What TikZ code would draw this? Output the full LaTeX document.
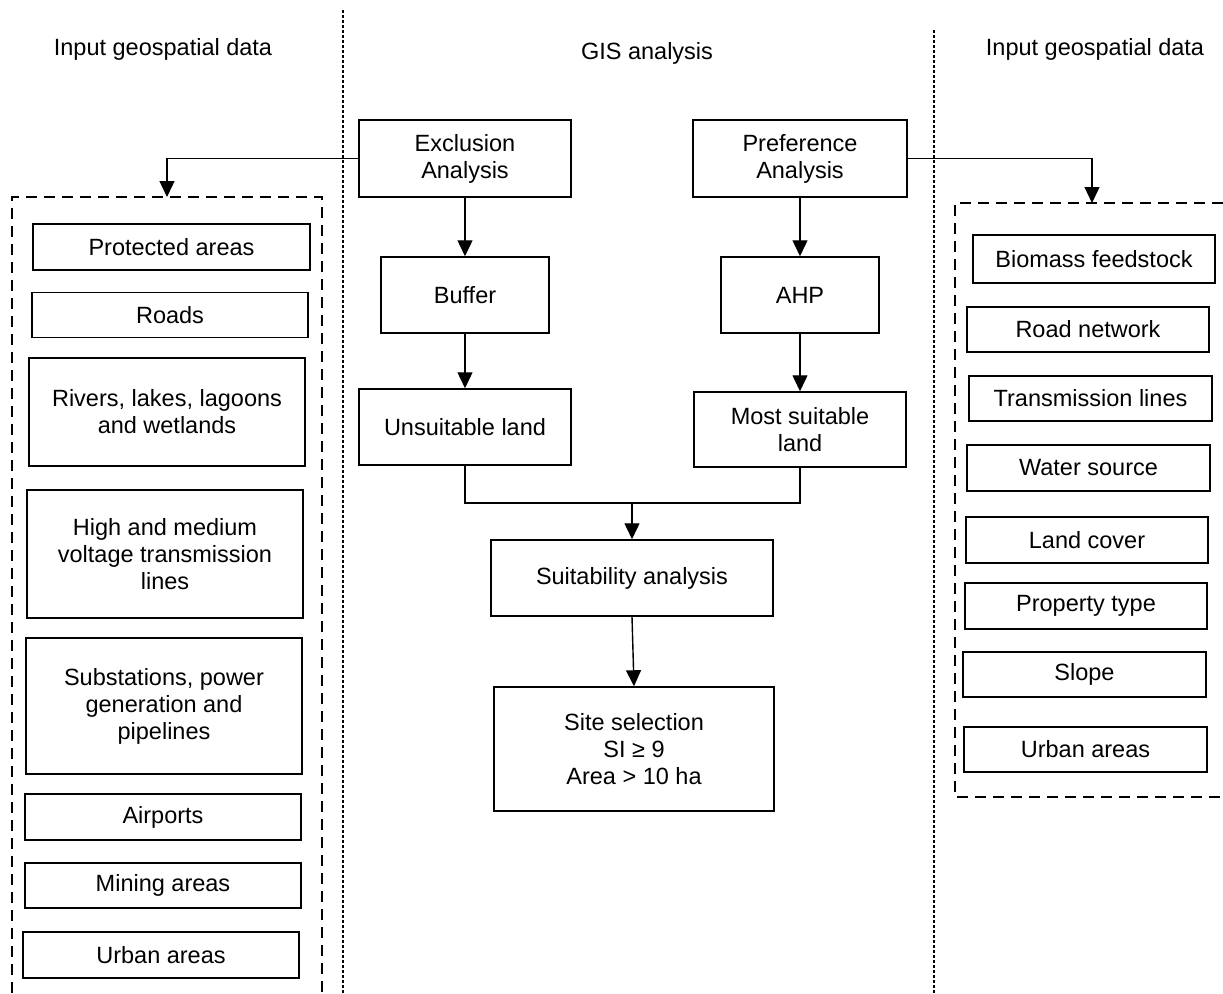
\documentclass[tikz,border=0pt]{standalone}
\usepackage{fontspec}
\setmainfont{Liberation Sans}
\usetikzlibrary{arrows.meta,calc}
\begin{document}
\begin{tikzpicture}[x=1pt,y=-1pt,
  every node/.style={font=\fontsize{23.5}{27}\selectfont},
  box/.style={draw,line width=1.5pt,align=center,inner sep=0pt},
  arr/.style={line width=1.4pt,-{Triangle[width=15pt,length=16pt]}},
  conn/.style={line width=1.4pt},
  divider/.style={line width=1.4pt,dash pattern=on 3pt off 2pt},
  group/.style={line width=1.6pt,dash pattern=on 11pt off 7pt}]
\useasboundingbox (0,0) rectangle (1223,993);

% dividers
\coordinate (d1t) at (343,10);
\coordinate (d1b) at (343,993);
\coordinate (d2t) at (934,30);
\coordinate (d2b) at (934,993);
\draw[divider] (d1t) -- (d1b);
\draw[divider] (d2t) -- (d2b);

% headings
\node (hl) at (163,49) {Input geospatial data};
\node (hm) at (647,53) {GIS analysis};
\node (hr) at (1095,49) {Input geospatial data};

% dashed groups
\coordinate (ltop) at (167,197);
\coordinate (rtop) at (1092,203);
\draw[group] (12,993) -- (12,197) -- (322,197) -- (322,993);
\draw[group] (1223,203) -- (955,203) -- (955,797) -- (1223,797);

% central flow
\node[box,minimum width=212pt,minimum height=77pt] (excl) at (465,158.5) {Exclusion\\Analysis};
\node[box,minimum width=214pt,minimum height=77pt] (pref) at (800,158.5) {Preference\\Analysis};
\node[box,minimum width=168pt,minimum height=76pt] (buf) at (465,295) {Buffer};
\node[box,minimum width=158pt,minimum height=76pt] (ahp) at (800,295) {AHP};
\node[box,minimum width=212pt,minimum height=76pt] (unsuit) at (465,427) {Unsuitable land};
\node[box,minimum width=212pt,minimum height=75pt] (most) at (800,429.5) {Most suitable\\land};
\node[box,minimum width=282pt,minimum height=76pt] (suit) at (632,578) {Suitability analysis};
\node[box,minimum width=280pt,minimum height=124pt] (site) at (634,749) {Site selection\\SI ≥ 9\\Area > 10 ha};

\draw[arr] (excl.south) -- (buf.north);
\draw[arr] (buf.south) -- (unsuit.north);
\draw[arr] (pref.south) -- (ahp.north);
\draw[arr] (ahp.south) -- (most.north);
\coordinate (j) at (632,503);
\draw[conn] (unsuit.south) |- (j) -| (most.south);
\draw[arr] (j) -- (suit.north);
\draw[arr] (suit.south) -- (site.north);
\draw[arr] (excl.west) -| (ltop);
\draw[arr] (pref.east) -| (rtop);

% left boxes
\node[box,minimum width=277pt,minimum height=46pt] (l1) at (171.5,247) {Protected areas};
\node[box,minimum width=276pt,minimum height=45pt] (l2) at (170,315) {Roads};
\node[box,minimum width=276pt,minimum height=108pt] (l3) at (167,412) {Rivers, lakes, lagoons\\and wetlands};
\node[box,minimum width=276pt,minimum height=128pt] (l4) at (165,554) {High and medium\\voltage transmission\\lines};
\node[box,minimum width=276pt,minimum height=136pt] (l5) at (164,706) {Substations, power\\generation and\\pipelines};
\node[box,minimum width=276pt,minimum height=46pt] (l6) at (163,817) {Airports};
\node[box,minimum width=276pt,minimum height=45pt] (l7) at (163,885.5) {Mining areas};
\node[box,minimum width=276pt,minimum height=46pt] (l8) at (161,955) {Urban areas};

% right boxes
\node[box,minimum width=242pt,minimum height=48pt] (r1) at (1094,259) {Biomass feedstock};
\node[box,minimum width=242pt,minimum height=45pt] (r2) at (1088,329.5) {Road network};
\node[box,minimum width=243pt,minimum height=45pt] (r3) at (1090.5,398.5) {Transmission lines};
\node[box,minimum width=243pt,minimum height=46pt] (r4) at (1088.5,468) {Water source};
\node[box,minimum width=242pt,minimum height=46pt] (r5) at (1087,540) {Land cover};
\node[box,minimum width=242pt,minimum height=46pt] (r6) at (1086,606) {Property type};
\node[box,minimum width=243pt,minimum height=45pt] (r7) at (1084.5,674.5) {Slope};
\node[box,minimum width=243pt,minimum height=45pt] (r8) at (1085.5,749.5) {Urban areas};
\end{tikzpicture}
\end{document}
